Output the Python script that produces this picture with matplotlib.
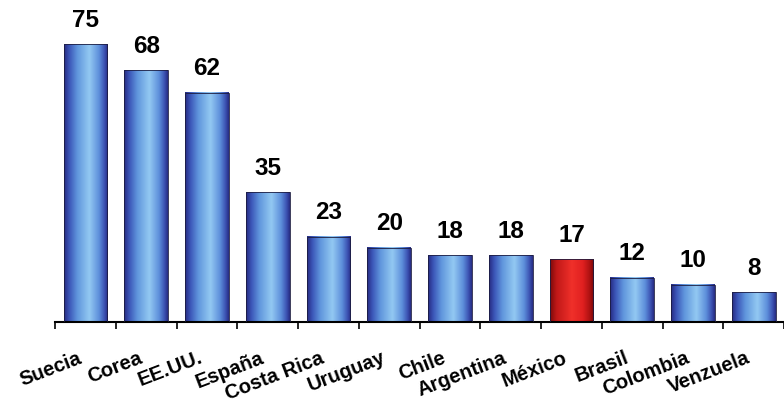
import numpy as np
import matplotlib
matplotlib.use('Agg')
import matplotlib.pyplot as plt
from matplotlib.colors import LinearSegmentedColormap

# datos
paises = ['Suecia', 'Corea', 'EE.UU.', 'España', 'Costa Rica', 'Uruguay',
          'Chile', 'Argentina', 'México', 'Brasil', 'Colombia', 'Venzuela']
valores = [75, 68, 62, 35, 23, 20, 18, 18, 17, 12, 10, 8]
destacado = 'México'

plt.rcParams['font.family'] = ['Liberation Sans', 'DejaVu Sans']

azul = LinearSegmentedColormap.from_list('azul', [
    (0.0, '#262a80'), (0.12, '#3b55b8'), (0.3, '#5f95dc'),
    (0.58, '#93c9f2'), (0.8, '#5d8fdb'), (0.93, '#3a4fb0'), (1.0, '#262a80')])
rojo = LinearSegmentedColormap.from_list('rojo', [
    (0.0, '#7a0a0a'), (0.15, '#c01818'), (0.5, '#f0302a'),
    (0.75, '#e02020'), (0.92, '#a81010'), (1.0, '#700808')])

fig = plt.figure(figsize=(7.84, 4.08), dpi=100)
ax = fig.add_axes([0.0702, 0.211, 0.93, 0.789])

x = np.arange(len(paises))
bars = ax.bar(x, valores, width=0.72, color='none', edgecolor='#1c1c40',
              linewidth=0.6, zorder=3)

grad = np.linspace(0, 1, 256).reshape(1, -1)
for bar, pais in zip(bars, paises):
    cmap = rojo if pais == destacado else azul
    x0 = bar.get_x()
    x1 = x0 + bar.get_width()
    h = bar.get_height()
    ax.imshow(grad, cmap=cmap, extent=[x0, x1, 0, h], aspect='auto',
              interpolation='bicubic', zorder=2)

for xi, v in zip(x, valores):
    ax.annotate(str(v), xy=(xi, v), xytext=(0, 9), textcoords='offset points',
                ha='center', va='bottom', fontsize=17.5, fontweight='bold')

for xi, pais in zip(x, paises):
    ax.annotate(pais, xy=(xi, 0), xycoords=('data', 'axes fraction'),
                xytext=(-6, -19), textcoords='offset points',
                ha='right', va='top', rotation=21, rotation_mode='anchor',
                fontsize=14.5, fontweight='bold')

ax.set_xlim(-0.5, len(paises) - 0.5)
ax.set_ylim(0, 87)
ax.set_xticks(np.arange(len(paises) + 1) - 0.5)
ax.set_xticklabels([])
ax.set_yticks([])
ax.tick_params(axis='x', direction='out', length=5, width=1.2, color='black')
for s in ['top', 'right', 'left']:
    ax.spines[s].set_visible(False)
ax.spines['bottom'].set_linewidth(1.5)
ax.set_facecolor('white')

fig.savefig('out.png', dpi=100)
